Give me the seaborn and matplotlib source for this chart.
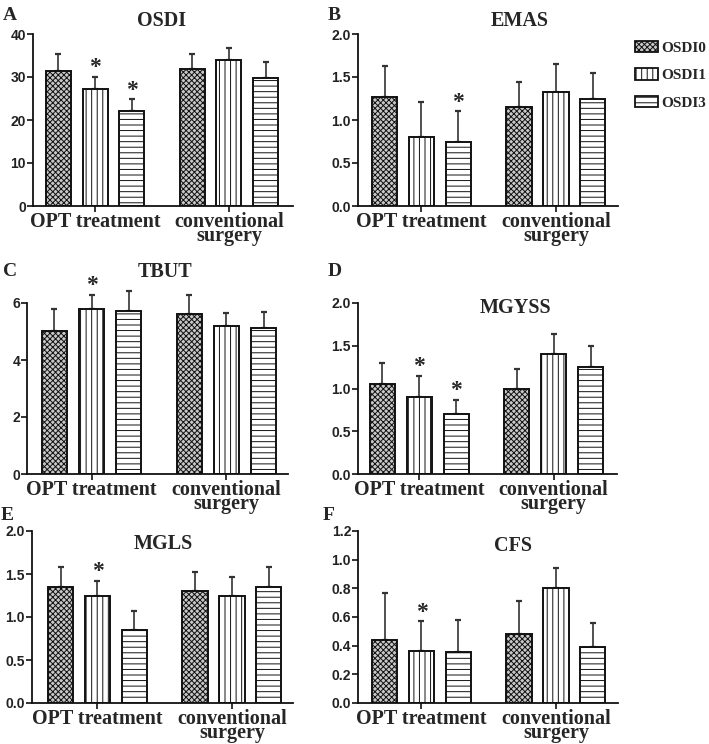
import matplotlib
matplotlib.use("Agg")
import matplotlib.pyplot as plt
import matplotlib.patches as mpatches
import seaborn as sns
import pandas as pd

sns.set_style("ticks")
plt.rcParams["font.family"] = ["Liberation Sans", "DejaVu Sans"]
plt.rcParams["hatch.linewidth"] = 0.7
plt.rcParams["hatch.color"] = "#222222"

W, H = 709, 744

groups = ["OPT treatment", "conventional\nsurgery"]
levels = ["OSDI0", "OSDI1", "OSDI3"]
hatches = ["xxxxxx", "|||", "---"]
faces = ["#c8c8c8", "white", "white"]

# order: OPT (OSDI0, OSDI1, OSDI3), conventional (OSDI0, OSDI1, OSDI3)
osdi_mean = [31.5, 27.3, 22.0, 31.9, 33.9, 29.7]
osdi_sd = [3.8, 2.8, 2.8, 3.4, 2.9, 3.8]
osdi_star = [0, 1, 1, 0, 0, 0]

emas_mean = [1.27, 0.80, 0.75, 1.15, 1.32, 1.25]
emas_sd = [0.36, 0.41, 0.35, 0.29, 0.33, 0.30]
emas_star = [0, 0, 1, 0, 0, 0]

tbut_mean = [5.01, 5.79, 5.71, 5.61, 5.20, 5.14]
tbut_sd = [0.78, 0.50, 0.70, 0.68, 0.46, 0.55]
tbut_star = [0, 1, 0, 0, 0, 0]

mgyss_mean = [1.05, 0.90, 0.70, 1.00, 1.40, 1.25]
mgyss_sd = [0.25, 0.25, 0.17, 0.23, 0.24, 0.25]
mgyss_star = [0, 1, 1, 0, 0, 0]

mgls_mean = [1.35, 1.25, 0.85, 1.30, 1.25, 1.35]
mgls_sd = [0.23, 0.17, 0.22, 0.22, 0.22, 0.23]
mgls_star = [0, 1, 0, 0, 0, 0]

cfs_mean = [0.44, 0.36, 0.356, 0.48, 0.80, 0.39]
cfs_sd = [0.33, 0.21, 0.22, 0.23, 0.14, 0.17]
cfs_star = [0, 1, 0, 0, 0, 0]

serif = dict(family=["Liberation Serif", "DejaVu Serif"], weight="bold")

# letter, title, mean, sd, stars, yticks, fmt, axes box px (l, t, r, b), xlim, title px, letter px
panels = [
    ("A", "OSDI", osdi_mean, osdi_sd, osdi_star, [0, 10, 20, 30, 40], "{:.0f}",
     (33, 34, 293, 206), (-0.463, 1.478), (162, 26), (3, 20)),
    ("B", "EMAS", emas_mean, emas_sd, emas_star, [0, 0.5, 1.0, 1.5, 2.0], "{:.1f}",
     (358, 34, 618, 206), (-0.472, 1.461), (520, 26), (328, 20)),
    ("C", "TBUT", tbut_mean, tbut_sd, tbut_star, [0, 2, 4, 6], "{:.0f}",
     (27, 303, 288, 474), (-0.478, 1.456), (165, 277), (3, 276)),
    ("D", "MGYSS", mgyss_mean, mgyss_sd, mgyss_star, [0, 0.5, 1.0, 1.5, 2.0], "{:.1f}",
     (358, 303, 617, 474), (-0.457, 1.472), (516, 313), (328, 276)),
    ("E", "MGLS", mgls_mean, mgls_sd, mgls_star, [0, 0.5, 1.0, 1.5, 2.0], "{:.1f}",
     (32, 531, 293, 703), (-0.487, 1.454), (163, 549), (1, 520)),
    ("F", "CFS", cfs_mean, cfs_sd, cfs_star, [0, 0.2, 0.4, 0.6, 0.8, 1.0, 1.2], "{:.1f}",
     (358, 531, 618, 703), (-0.472, 1.461), (513, 551), (323, 520)),
]

fig = plt.figure(figsize=(W / 100, H / 100), dpi=100)

for letter, title, mean, sd, stars, yticks, fmt, box, xlim, tpos, lpos in panels:
    l, t, r, b = box
    ax = fig.add_axes([l / W, 1 - b / H, (r - l) / W, (b - t) / H])
    df = pd.DataFrame({
        "group": [g for g in groups for _ in levels],
        "level": levels * len(groups),
        "value": mean,
    })
    sns.barplot(data=df, x="group", y="value", hue="level", order=groups,
                hue_order=levels, palette=faces, saturation=1, edgecolor="#111111",
                linewidth=1.4, width=0.824, gap=0.32, errorbar=None,
                legend=False, ax=ax, zorder=2)
    for i, (cont, h) in enumerate(zip(ax.containers, hatches)):
        for j, bar in enumerate(cont):
            bar.set_hatch(h)
            k = j * len(levels) + i
            x = bar.get_x() + bar.get_width() / 2
            y = bar.get_height()
            eb = ax.errorbar(x, y, yerr=[[0], [sd[k]]], fmt="none", ecolor="#333333",
                             elinewidth=1.2, capsize=2.5, capthick=1.6, zorder=1)
            for art in eb.lines[1] + eb.lines[2]:
                art.set_clip_on(False)
            if stars[k]:
                ax.annotate("*", xy=(x, y + sd[k]), xytext=(0, -1), textcoords="offset points",
                            ha="center", va="bottom", fontsize=17, annotation_clip=False,
                            **serif)

    ax.set_xlim(*xlim)
    ax.set_ylim(yticks[0], yticks[-1])
    ax.set_yticks(yticks)
    ax.set_yticklabels([fmt.format(v) for v in yticks], fontsize=10, fontweight="bold", color="#222222")
    ax.set_xticks(range(len(groups)))
    ax.set_xticklabels(groups, fontsize=14.5, linespacing=0.65, **serif)
    ax.set_xlabel("")
    ax.set_ylabel("")
    sns.despine(ax=ax)
    for s in ["left", "bottom"]:
        ax.spines[s].set_linewidth(1.3)
        ax.spines[s].set_color("#111111")
    ax.tick_params(axis="both", direction="out", length=4, width=1.2, color="#111111")
    ax.tick_params(axis="x", pad=0)
    ax.tick_params(axis="y", pad=1)

    fig.text(tpos[0] / W, 1 - tpos[1] / H, title, ha="center", va="baseline", fontsize=14.5, **serif)
    fig.text(lpos[0] / W, 1 - lpos[1] / H, letter, ha="left", va="baseline", fontsize=14, **serif)

handles = [mpatches.Patch(facecolor=fc, edgecolor="#111111", linewidth=1.3, hatch=h, label=lv)
           for h, fc, lv in zip(hatches, faces, levels)]
fig.legend(handles=handles, loc="upper left", bbox_to_anchor=(627 / W, 1 - 33 / H),
           frameon=False, borderpad=0, handlelength=1.55, handleheight=0.75,
           handletextpad=0.2, labelspacing=0.9,
           prop=dict(family=["Liberation Serif", "DejaVu Serif"], weight="bold", size=11))

fig.savefig("out.png", dpi=100)
